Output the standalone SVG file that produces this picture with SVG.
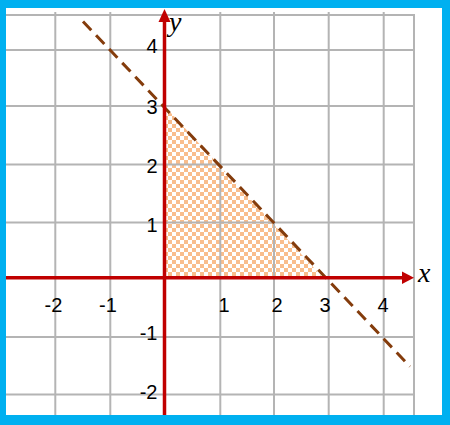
<svg xmlns="http://www.w3.org/2000/svg" width="450" height="425" viewBox="0 0 450 425">
  <defs>
    <pattern id="checker" x="0" y="0" width="8" height="8" patternUnits="userSpaceOnUse">
      <rect width="8" height="8" fill="#ffffff"/>
      <rect x="0" y="0" width="4" height="4" fill="#F9BD8C"/>
      <rect x="4" y="4" width="4" height="4" fill="#F9BD8C"/>
    </pattern>
    <style>
      .grid { stroke: #B4B4B4; stroke-width: 2; fill: none; }
      .axis { stroke: #C00000; stroke-width: 3.5; fill: none; }
      .arrow { fill: #C00000; }
      .num { font-family: "Liberation Sans", Arial, sans-serif; font-size: 20px; fill: #000; }
      .var { font-family: "Liberation Serif", "Times New Roman", serif; font-style: italic; font-size: 28px; fill: #000; }
      .dash { stroke: #843C0C; stroke-width: 3; stroke-dasharray: 12 7; fill: none; }
    </style>
  </defs>

  <!-- frame -->
  <g id="frame">
    <rect x="0" y="0" width="450" height="425" fill="#00B0F0"/>
    <rect x="6" y="8" width="436" height="407" fill="#ffffff"/>
  </g>

  <!-- feasible region -->
  <g id="region">
    <polygon points="164.5,106 323,277.7 164.5,277.7" fill="url(#checker)"/>
  </g>

  <!-- grid -->
  <g id="grid" class="grid">
    <line x1="6" y1="15" x2="414" y2="15"/>
    <line x1="6" y1="50" x2="414" y2="50"/>
    <line x1="6" y1="106" x2="414" y2="106"/>
    <line x1="6" y1="164.5" x2="414" y2="164.5"/>
    <line x1="6" y1="222.5" x2="414" y2="222.5"/>
    <line x1="6" y1="337" x2="414" y2="337"/>
    <line x1="6" y1="394.5" x2="414" y2="394.5"/>
    <line x1="55.3" y1="12" x2="55.3" y2="415"/>
    <line x1="110.3" y1="12" x2="110.3" y2="415"/>
    <line x1="220.3" y1="12" x2="220.3" y2="415"/>
    <line x1="274" y1="12" x2="274" y2="415"/>
    <line x1="328.7" y1="12" x2="328.7" y2="415"/>
    <line x1="383.7" y1="12" x2="383.7" y2="415"/>
    <line x1="414" y1="14" x2="414" y2="415"/>
  </g>

  <!-- connectors: boundary line x + y = 3 -->
  <g id="connectors">
    <line class="dash" x1="83" y1="21.5" x2="410" y2="366.5"/>
  </g>

  <!-- axes -->
  <g id="x-axis">
    <line class="axis" x1="6" y1="277.7" x2="404" y2="277.7"/>
    <polygon class="arrow" points="414,277.7 402,271.5 402,283.9"/>
    <text class="var" x="418" y="282">x</text>
  </g>
  <g id="y-axis">
    <line class="axis" x1="164.5" y1="415" x2="164.5" y2="20"/>
    <polygon class="arrow" points="164.5,9 158.5,22 170.5,22"/>
    <text class="var" x="169" y="31">y</text>
  </g>

  <!-- tick labels -->
  <g id="x-labels" class="num" text-anchor="middle">
    <text x="53.5" y="312">-2</text>
    <text x="108" y="312">-1</text>
    <text x="224" y="312">1</text>
    <text x="277" y="312">2</text>
    <text x="325" y="312">3</text>
    <text x="383" y="312">4</text>
  </g>
  <g id="y-labels" class="num" text-anchor="end">
    <text x="157.5" y="53">4</text>
    <text x="157.5" y="113.5">3</text>
    <text x="157.5" y="173">2</text>
    <text x="157.5" y="232">1</text>
    <text x="157.5" y="340">-1</text>
    <text x="157.5" y="398.5">-2</text>
  </g>
</svg>
